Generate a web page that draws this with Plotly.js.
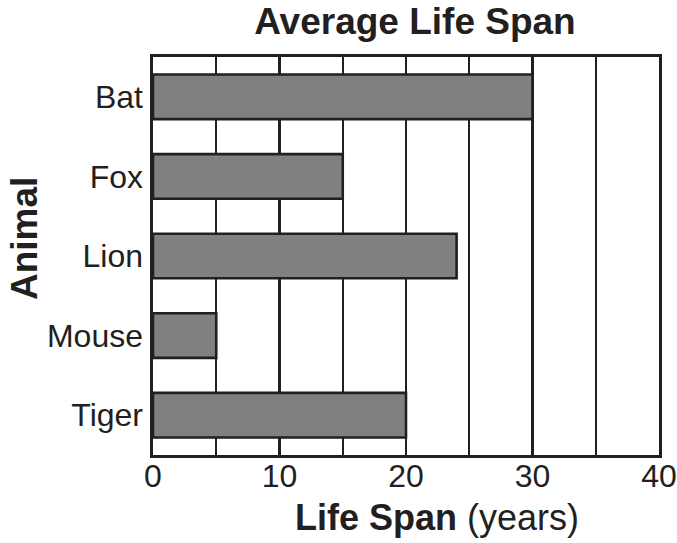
<!DOCTYPE html>
<html>
<head>
<meta charset="utf-8">
<script src="https://cdn.plot.ly/plotly-3.0.1.min.js"></script>
<style>html,body{margin:0;padding:0;background:#fff;}#chart{width:677px;height:543px;}</style>
</head>
<body>
<div id="chart"></div>
<script>
var animals = ['Bat', 'Fox', 'Lion', 'Mouse', 'Tiger'];
var lifeSpan = [30, 15, 24, 5, 20];
var xTickVals = [0, 5, 10, 15, 20, 25, 30, 35, 40];
var xTickText = ['0', '', '10', '', '20', '', '30', '', '40'];

var ink = '#231f20';
var fontFam = '"Liberation Sans", Arial, Helvetica, sans-serif';

var trace = {
  type: 'bar',
  orientation: 'h',
  y: animals,
  x: lifeSpan,
  marker: {color: '#808083', line: {color: ink, width: 2.6}},
  hoverinfo: 'x+y'
};

var layout = {
  width: 677, height: 543,
  margin: {l: 153, r: 18, t: 57, b: 88, pad: 0},
  paper_bgcolor: '#fff', plot_bgcolor: '#fff',
  font: {family: fontFam, color: ink},
  showlegend: false,
  bargap: 0.44,
  title: {
    text: '<b>Average Life Span</b>',
    font: {family: fontFam, size: 37, color: ink},
    xref: 'container', x: 415 / 677, xanchor: 'center',
    yref: 'container', y: 1 - 8 / 543, yanchor: 'top',
    pad: {t: 0, b: 0, l: 0, r: 0}
  },
  xaxis: {
    range: [0, 40],
    tickvals: xTickVals,
    ticktext: xTickText,
    tickfont: {family: fontFam, size: 32, color: ink},
    ticks: '',
    ticklen: 0,
    ticklabelstandoff: -9,
    showgrid: true, gridcolor: ink, gridwidth: 2.3,
    zeroline: false,
    showline: true, mirror: true, linecolor: ink, linewidth: 2.6,
    fixedrange: true
  },
  yaxis: {
    autorange: 'reversed',
    tickfont: {family: fontFam, size: 32, color: ink},
    ticks: '',
    ticklen: 0,
    ticklabelstandoff: 1,
    showgrid: false,
    zeroline: false,
    showline: true, mirror: true, linecolor: ink, linewidth: 2.6,
    fixedrange: true
  },
  annotations: [
    {
      text: '<b>Life Span</b> (years)',
      xref: 'paper', yref: 'paper',
      x: (437 - 153) / 506, y: -(540 - 455) / 398,
      xanchor: 'center', yanchor: 'bottom',
      showarrow: false,
      font: {family: fontFam, size: 36, color: ink}
    },
    {
      text: '<b>Animal</b>',
      textangle: -90,
      xref: 'paper', yref: 'paper',
      x: (24 - 153) / 506, y: 1 - (239 - 57) / 398,
      xanchor: 'center', yanchor: 'middle',
      showarrow: false,
      font: {family: fontFam, size: 37, color: ink}
    }
  ]
};

Plotly.newPlot('chart', [trace], layout, {displayModeBar: false, staticPlot: true});
</script>
</body>
</html>
